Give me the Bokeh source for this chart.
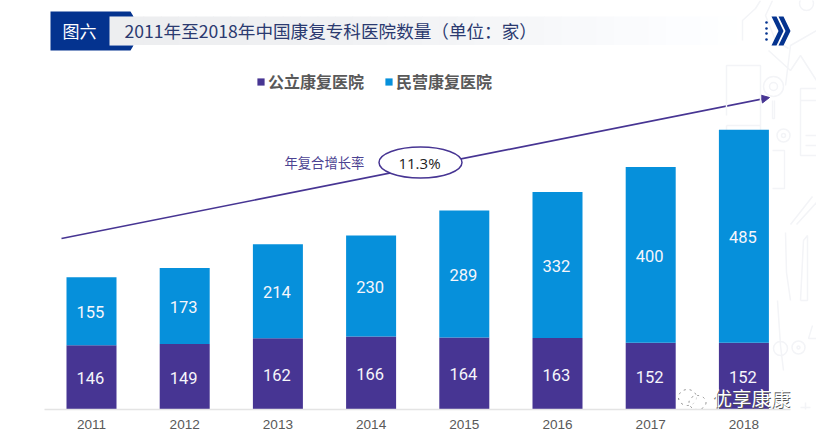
from bokeh.core.properties import value
from bokeh.embed import file_html
from bokeh.resources import INLINE
from bokeh.plotting import figure
from bokeh.models import (ColumnDataSource, Range1d, FixedTicker, Legend, LegendItem, Arrow,
                          NormalHead, Label, LabelSet)

years = [2011, 2012, 2013, 2014, 2015, 2016, 2017, 2018]
public_hospitals = [146, 149, 162, 166, 164, 163, 152, 152]
private_hospitals = [155, 173, 214, 230, 289, 332, 400, 485]
series_names = ["公立康复医院", "民营康复医院"]
title_text = "2011年至2018年中国康复专科医院数量（单位：家）"
figure_tag = "图六"
cagr_label = "年复合增长率"
cagr_value = "11.3%"
watermark = "优享康康"

PURPLE = "#473593"
BLUE = "#0690db"
NAVY = "#04338f"
FAINT = "#f3f4f7"
W, H = 816, 433
BASE = 409.0
PX_PER_UNIT = 0.4393
X0, STEP = 91.0, 93.2

def px(x):  # image pixel -> data x
    return 2011 + (x - X0) / STEP

def py(y):  # image pixel -> data y
    return (BASE - y) / PX_PER_UNIT

p = figure(width=W, height=H, output_backend="svg", toolbar_location=None,
           x_range=Range1d(px(0), px(816)), y_range=Range1d(0, py(0)),
           min_border_left=0, min_border_right=0, min_border_top=0, min_border_bottom=24,
           outline_line_color=None, background_fill_color="white", border_fill_color="white")
p.grid.visible = False
p.yaxis.visible = False

# faint background decoration
def faint(xs, ys, w=1.5):
    p.line([px(v) for v in xs], [py(v) for v in ys], line_color=FAINT, line_width=w)

def ring(x, y, d, w=1.5):
    p.scatter([px(x)], [py(y)], marker="circle", size=d, fill_color=None, line_color=FAINT, line_width=w)

faint([742, 742, 755, 760], [40, 20, 8, 0])
faint([772, 765, 775, 788], [0, 15, 40, 48])
faint([785, 790, 816], [85, 45, 30])
faint([768, 790, 800, 816], [50, 70, 55, 80])
ring(806, 3, 14)
faint([726, 726, 760, 760, 726], [115, 65, 65, 125, 125])
faint([726, 726, 760, 760], [125, 135, 135, 125])
ring(773, 86, 20); ring(773, 86, 8)
faint([772, 772, 774, 774], [100, 118, 118, 100], 1.4)
faint([816, 800, 800, 816], [88, 88, 155, 155])
faint([800, 816], [100, 100]); faint([805, 816], [135, 135]); faint([805, 816], [145, 145])
ring(783, 135, 13); ring(783, 135, 4)
faint([772, 784, 784, 772], [150, 150, 188, 188], 1.4)
faint([790, 812], [224, 196]); faint([796, 816], [224, 202])
faint([785, 786, 790], [232, 272, 300])
faint([800, 803, 807, 807, 800], [300, 240, 235, 300, 300])
faint([777, 780, 783], [300, 345, 370])
ring(798, 347, 13); ring(798, 347, 3)
faint([812, 808, 816], [325, 338, 338], 1.4)
ring(780, 348, 14)
faint([800, 810], [407, 407]); faint([805, 805], [402, 412])
ring(787, 426, 7); ring(803, 426, 8)
faint([770, 776, 783], [405, 418, 405], 1.4)

# title band with fading grey
steps = 36
for i in range(steps):
    t = i / (steps - 1)
    g = round(238 + 17 * t ** 1.6)
    left = 108 + i * (735 - 108) / steps
    right = 108 + (i + 1) * (735 - 108) / steps + 1
    p.quad(left=[px(left)], right=[px(right)], bottom=[py(44.5)], top=[py(16)],
           fill_color="#%02x%02x%02x" % (max(g - 1, 0), g, min(g + 2, 255)), line_color=None)
p.patch([px(v) for v in (50, 130, 133, 109, 109, 133, 130, 50)],
        [py(v) for v in (11, 11, 16, 16, 45, 45, 50, 50)], fill_color=NAVY, line_color=None)
for x0 in (771, 778):
    p.patch([px(x0 + d) for d in (0, 5, 12, 5, 0, 7)], [py(v) for v in (16, 16, 30.5, 45, 45, 30.5)],
            fill_color=NAVY, line_color=None)
p.scatter([px(766)] * 4, [py(v) for v in (22, 28, 33, 39)], marker="circle", size=2.6,
          fill_color=NAVY, line_color=None)

# bars
source = ColumnDataSource(dict(
    year=years,
    public=public_hospitals,
    private=private_hospitals,
    public_mid=[v / 2 for v in public_hospitals],
    private_mid=[a + b / 2 for a, b in zip(public_hospitals, private_hospitals)],
))
bars = p.vbar_stack(["public", "private"], x="year", width=50 / STEP, source=source,
                    fill_color=[PURPLE, BLUE], line_color=None)

for col, val in (("public_mid", "public"), ("private_mid", "private")):
    p.add_layout(LabelSet(x="year", y=col, text=val, source=source, text_align="center",
                          text_baseline="middle", text_color="#f6f6fb", text_font=value("Roboto"),
                          text_font_size="16.5px", x_offset=-1, y_offset=-1))

p.add_layout(Legend(
    items=[LegendItem(label=series_names[0], renderers=[bars[0]]),
           LegendItem(label=series_names[1], renderers=[bars[1]])],
    orientation="horizontal", location=(256, 316), glyph_width=9, glyph_height=9,
    label_standoff=3, spacing=20, padding=0, margin=0, border_line_color=None,
    background_fill_alpha=0, label_text_font="Noto Sans CJK SC", label_text_font_style="bold",
    label_text_font_size="16px", label_text_color="#595959", label_height=18))

# growth arrow and ellipse
p.add_layout(Arrow(x_start=px(61), y_start=py(238), x_end=px(769), y_end=py(97),
                   line_color=PURPLE, line_width=1.6, level="underlay",
                   end=NormalHead(size=8, fill_color=PURPLE, line_color=PURPLE)))
p.ellipse(x=[px(420)], y=[py(162)], width=[83 / STEP], height=[31 / PX_PER_UNIT],
          fill_color="white", line_color=PURPLE, line_width=1.5)

def text(x, y, s, size, color, font="Noto Sans CJK SC", align="left", style="normal"):
    p.add_layout(Label(x=px(x), y=py(y), text=s, text_font=font, text_font_size=size,
                       text_color=color, text_align=align, text_baseline="middle",
                       text_font_style=style))

text(79, 30, figure_tag, "17px", "white", align="center")
text(124, 30, title_text, "17.6px", "#2b3a70")
text(284, 162, cagr_label, "13.3px", "#4c4392")
text(419, 162, cagr_value, "15px", "#222222", font="Open Sans", align="center")

# watermark
p.ellipse(x=[px(687), px(697)], y=[py(397), py(402)], width=[18 / STEP, 17 / STEP],
          height=[16 / PX_PER_UNIT, 14 / PX_PER_UNIT], fill_color="white", fill_alpha=0.6,
          line_color="#8a8a8a", line_width=1, line_dash="dotted")
text(712.8, 397.6, watermark, "19.5px", "#555555")
text(712, 397, watermark, "19.5px", "#ffffff")

ax = p.xaxis[0]
ax.ticker = FixedTicker(ticks=years)
ax.bounds = (px(44), px(790))
ax.axis_line_color = "#e4e4e4"
ax.axis_line_width = 1.5
ax.major_tick_line_color = None
ax.minor_tick_line_color = None
ax.major_tick_out = 0
ax.major_tick_in = 0
ax.major_label_standoff = 10
ax.major_label_text_font = "Liberation Sans"
ax.major_label_text_font_size = "13.6px"
ax.major_label_text_color = "#595959"

open("out.html", "w").write(file_html(p, INLINE))
